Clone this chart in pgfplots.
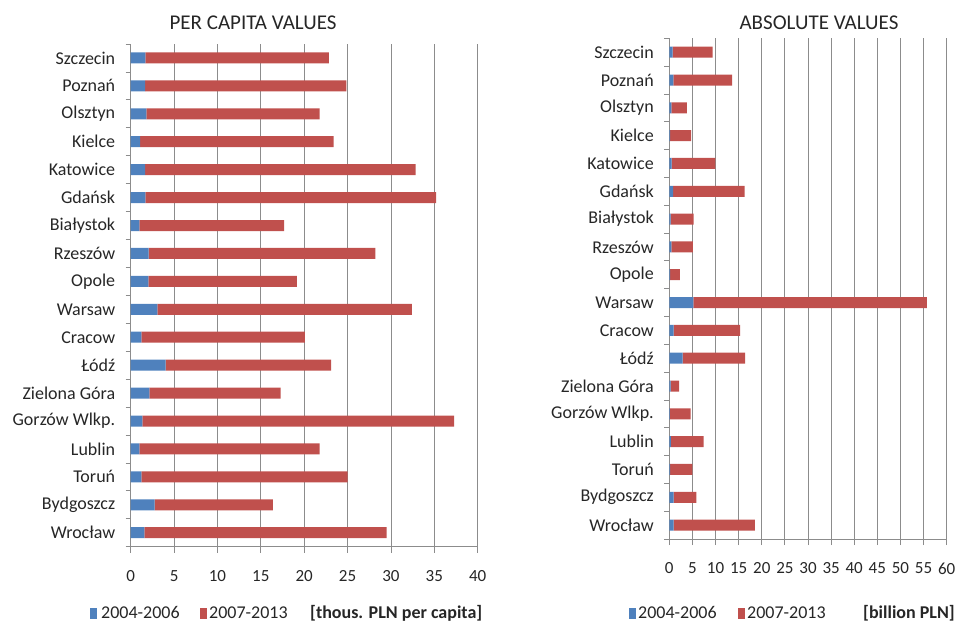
\documentclass[border=0pt]{standalone}
\usepackage{pgfplots}
\pgfplotsset{compat=1.18}
\usepackage{fontspec}
\setmainfont{Carlito}
\definecolor{cblue}{HTML}{4F81BD}
\definecolor{cred}{HTML}{C0504D}
\definecolor{cgrid}{HTML}{8C8C8C}
\definecolor{ctext}{HTML}{262626}
\begin{document}
\begin{tikzpicture}
\path[use as bounding box] (0pt,0pt) rectangle (959pt,622pt);
\pgfplotsset{
  common/.style={
    scale only axis,
    xbar stacked,
    bar width=11pt,
    ymin=-0.5, ymax=17.5,
    ytick={0,...,17},
    yticklabels={Wrocław,Bydgoszcz,Toruń,Lublin,Gorzów Wlkp.,Zielona Góra,Łódź,Cracow,Warsaw,Opole,Rzeszów,Białystok,Gdańsk,Katowice,Kielce,Olsztyn,Poznań,Szczecin},
    minor ytick={-0.5,0.5,...,17.5},
    axis x line*=bottom, axis y line*=left,
    xmajorgrids,
    grid style={cgrid, line width=0.8pt},
    axis line style={cgrid, line width=0.8pt, -},
    tick align=outside,
    major tick length=6pt,
    minor tick length=5pt,
    major y tick style={draw=none},
    minor y tick style={cgrid, line width=0.8pt},
    major x tick style={cgrid, line width=0.8pt},
    /pgf/number format/assume math mode=true,
    xticklabel style={font=\fontsize{17}{20}\selectfont, text=ctext, yshift=-14pt},
    yticklabel style={font=\fontsize{18}{21}\selectfont, text=ctext, xshift=-6pt},
  }
}
\begin{axis}[common,
  at={(130.7pt,75.3pt)}, anchor=south west,
  width=347pt, height=502.7pt,
  xmin=0, xmax=40, xtick={0,5,...,40},
]
\addplot[fill=cblue, draw=none] coordinates {
(1.58,0) (2.77,1) (1.23,2) (1.0,3) (1.35,4) (2.15,5) (4.04,6) (1.23,7) (3.08,8)
(2.04,9) (2.08,10) (1.0,11) (1.7,12) (1.65,13) (1.1,14) (1.8,15) (1.65,16) (1.69,17)};
\addplot[fill=cred, draw=none] coordinates {
(27.92,0) (13.61,1) (23.77,2) (20.77,3) (35.92,4) (15.12,5) (19.06,6) (18.85,7) (29.32,8)
(17.11,9) (26.12,10) (16.7,11) (33.5,12) (31.2,13) (22.3,14) (19.97,15) (23.2,16) (21.16,17)};
\end{axis}
\begin{axis}[common,
  at={(669.3pt,83pt)}, anchor=south west,
  width=277.4pt, height=500.7pt,
  xmin=0, xmax=60, xtick={0,5,...,60},
]
\addplot[fill=cblue, draw=none] coordinates {
(0.94,0) (0.94,1) (0.2,2) (0.36,3) (0.15,4) (0.3,5) (2.9,6) (0.94,7) (5.2,8)
(0.2,9) (0.43,10) (0.3,11) (0.8,12) (0.5,13) (0.2,14) (0.43,15) (0.87,16) (0.72,17)};
\addplot[fill=cred, draw=none] coordinates {
(17.56,0) (4.91,1) (4.8,2) (7.04,3) (4.45,4) (1.8,5) (13.5,6) (14.36,7) (50.5,8)
(2.1,9) (4.67,10) (4.96,11) (15.5,12) (9.45,13) (4.5,14) (3.37,15) (12.73,16) (8.65,17)};
\end{axis}
% titles
\node[font=\fontsize{21}{24}\selectfont, text=ctext] at (253pt,599pt) {PER CAPITA VALUES};
\node[font=\fontsize{21}{24}\selectfont, text=ctext] at (819pt,599pt) {ABSOLUTE VALUES};
% legends
\begin{scope}[every node/.style={font=\fontsize{18}{21}\selectfont, text=ctext, inner sep=0pt, anchor=base west}]
\fill[cblue] (90pt,3pt) rectangle (97pt,14pt);
\node at (101pt,3.5pt) {2004-2006};
\fill[cred] (200pt,3pt) rectangle (207pt,14pt);
\node at (209pt,3.5pt) {2007-2013};
\node[font=\fontsize{18}{21}\selectfont\bfseries] at (310pt,3.5pt) {[thous. PLN per capita]};
\fill[cblue] (629pt,3pt) rectangle (636pt,14pt);
\node at (638pt,3.5pt) {2004-2006};
\fill[cred] (738pt,3pt) rectangle (745pt,14pt);
\node at (747pt,3.5pt) {2007-2013};
\node[font=\fontsize{18}{21}\selectfont\bfseries] at (863pt,3.5pt) {[billion PLN]};
\end{scope}
\end{tikzpicture}
\end{document}
